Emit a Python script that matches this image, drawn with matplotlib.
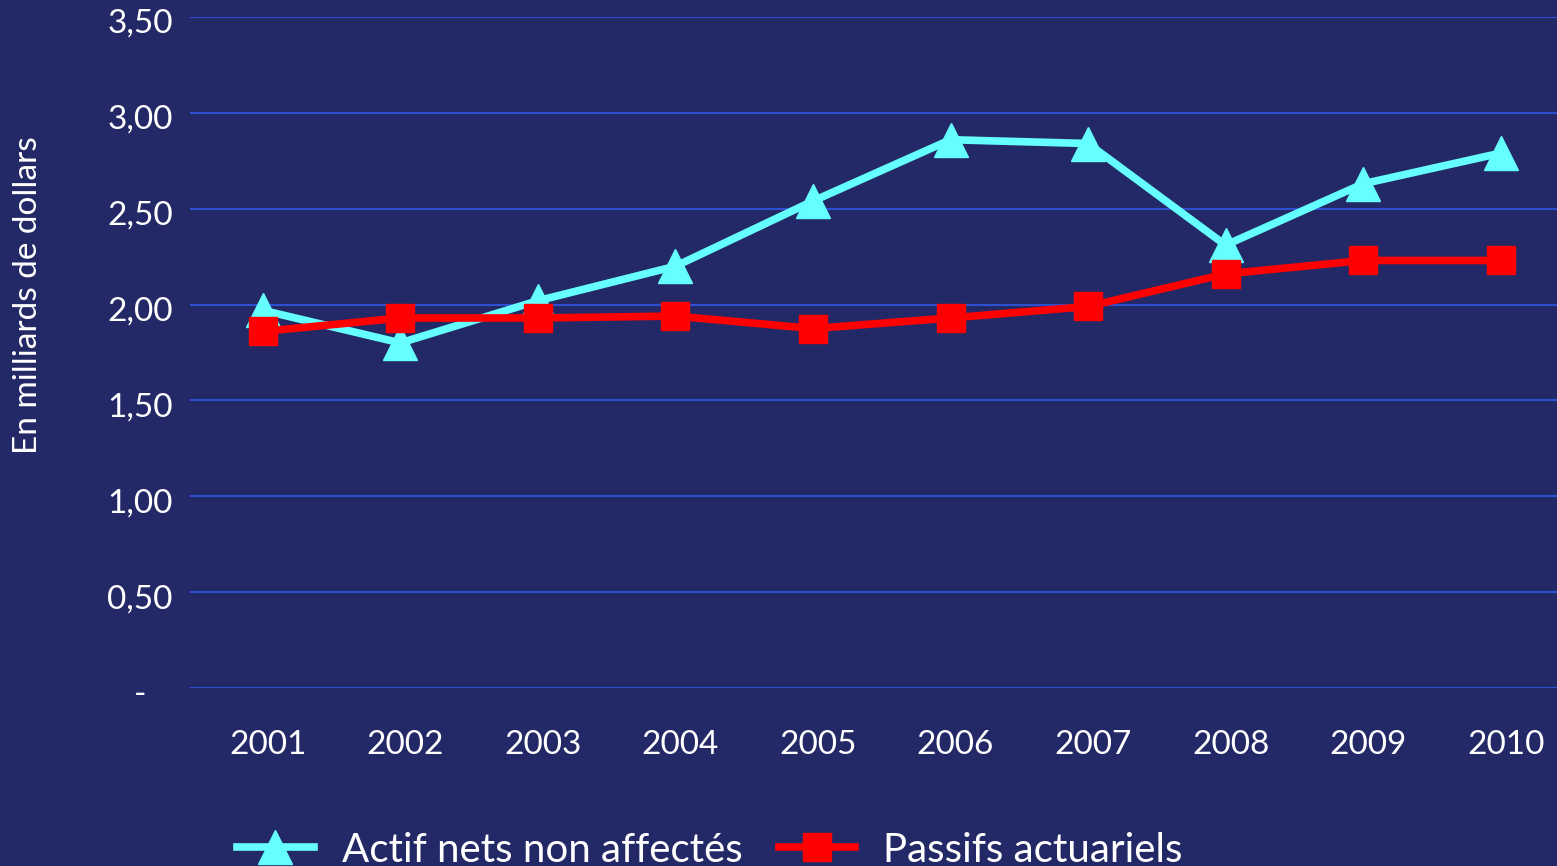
import numpy as np
import matplotlib.pyplot as plt
import matplotlib.transforms as mtransforms
from matplotlib.ticker import FixedLocator

plt.rcParams['font.family'] = ['Lato', 'DejaVu Sans']

years = ['2001', '2002', '2003', '2004', '2005', '2006', '2007', '2008', '2009', '2010']
actif = [1.97, 1.80, 2.02, 2.20, 2.54, 2.86, 2.84, 2.31, 2.63, 2.79]
passifs = [1.86, 1.93, 1.93, 1.94, 1.875, 1.93, 1.99, 2.16, 2.23, 2.23]
yticks = [0, 0.5, 1.0, 1.5, 2.0, 2.5, 3.0, 3.5]
ytick_labels = ['-', '0,50', '1,00', '1,50', '2,00', '2,50', '3,00', '3,50']

bg = '#232966'
fig = plt.figure(figsize=(15.57, 8.66), dpi=100, facecolor=bg)
ax = fig.add_axes([190/1557, 1 - 688/866, 1 - 190/1557, (688 - 17)/866])
ax.set_facecolor(bg)

x = np.arange(len(years))
ax.plot(x, actif, '-^', color='#66FFFF', lw=5.5, ms=25, label='Actif nets non affectés', zorder=3)
ax.plot(x, passifs, '-s', color='#FF0000', lw=5.5, ms=20, label='Passifs actuariels', zorder=4)

ax.set_ylim(0, 3.5)
ax.set_xlim(-0.53, 9.41)
ax.yaxis.set_major_locator(FixedLocator(yticks))
ax.set_yticklabels(ytick_labels, ha='center')
ax.set_xticks(x)
ax.set_xticklabels(years)
ax.grid(axis='y', color='#2E4FD0', lw=1.5)
ax.set_axisbelow(True)
for s in ax.spines.values():
    s.set_visible(False)
ax.tick_params(length=0, colors='white', labelsize=24)
ax.tick_params(axis='y', pad=36)
ax.tick_params(axis='x', pad=30)

# labels sit a touch right of / below the markers in the original
shift_x = mtransforms.ScaledTranslation(5/100, 0, fig.dpi_scale_trans)
for lbl in ax.get_xticklabels():
    lbl.set_transform(lbl.get_transform() + shift_x)
shift_y = mtransforms.ScaledTranslation(0, -4/100, fig.dpi_scale_trans)
for lbl in ax.get_yticklabels():
    lbl.set_transform(lbl.get_transform() + shift_y)

fig.text(28/1557, 1 - 295/866, 'En milliards de dollars', rotation=90, color='white',
         fontsize=24, ha='center', va='center')

leg = fig.legend(loc='center', bbox_to_anchor=(710/1557, 1 - 850/866), ncol=2, frameon=False,
                 fontsize=29, labelcolor='white', handlelength=1.9, columnspacing=0.9,
                 handletextpad=0.7)

plt.savefig('out.png', facecolor=bg)
